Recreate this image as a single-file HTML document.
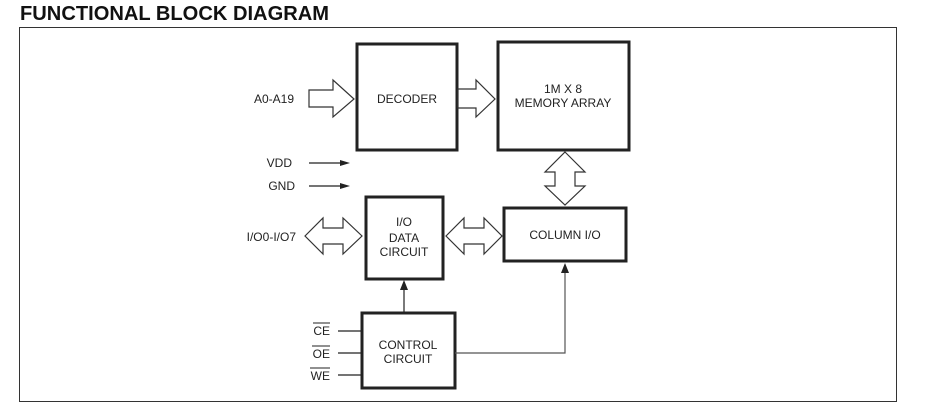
<!DOCTYPE html>
<html><head><style>
body{margin:0;background:#fff;width:925px;height:404px;overflow:hidden}
svg text{font-family:"Liberation Sans",Arial,sans-serif;fill:#222}
</style></head><body>
<svg width="925" height="404" xmlns="http://www.w3.org/2000/svg">
<text x="20" y="20" font-size="20" font-weight="bold" textLength="309" lengthAdjust="spacingAndGlyphs" style="fill:#111">FUNCTIONAL BLOCK DIAGRAM</text>
<rect x="19.5" y="27.5" width="877" height="374" fill="none" stroke="#333" stroke-width="1"/>
<g fill="none" stroke="#222" stroke-width="3">
<rect x="357" y="44" width="100" height="106"/>
<rect x="498" y="42" width="131" height="108"/>
<rect x="504" y="208" width="122" height="53"/>
<rect x="366" y="197" width="77" height="82"/>
<rect x="362" y="313" width="93" height="75"/>
</g>
<g fill="#fff" stroke="#333" stroke-width="1.2">
<polygon points="309,90 333,90 333,80 354,99 333,117 333,107 309,107"/>
<polygon points="458,89 476,89 476,80 495,99 476,117 476,108 458,108"/>
<polygon points="565,152 585,172 575,172 575,186 585,186 565,205 545,186 555,186 555,172 545,172"/>
<polygon points="305,236 323,218 323,228 343,228 343,218 362,236 343,254 343,244 323,244 323,254"/>
<polygon points="446,236 464,218 464,228 484,228 484,218 502,236 484,254 484,244 464,244 464,254"/>
</g>
<g stroke="#222" stroke-width="1.2" fill="none">
<line x1="309" y1="163" x2="342" y2="163"/>
<line x1="309" y1="186" x2="342" y2="186"/>
<line x1="338" y1="331" x2="362" y2="331"/>
<line x1="338" y1="353" x2="362" y2="353"/>
<line x1="338" y1="375" x2="362" y2="375"/>
<line x1="404" y1="312" x2="404" y2="288"/>
<polyline points="455,353 565,353 565,272" stroke="#555"/>
</g>
<g fill="#222">
<polygon points="350,163 340,160 340,166"/>
<polygon points="350,186 340,183 340,189"/>
<polygon points="404,280 400,290 408,290"/>
<polygon points="565,263 561,273 569,273"/>
</g>
<g font-size="12" text-anchor="middle">
<text x="407" y="103">DECODER</text>
<text x="563" y="93">1M X 8</text>
<text x="563" y="107">MEMORY ARRAY</text>
<text x="565" y="239">COLUMN I/O</text>
<text x="404" y="226">I/O</text>
<text x="404" y="242">DATA</text>
<text x="404" y="256">CIRCUIT</text>
<text x="408" y="349">CONTROL</text>
<text x="408" y="363">CIRCUIT</text>
</g>
<g font-size="12" text-anchor="end">
<text x="294" y="103">A0-A19</text>
<text x="292" y="167">VDD</text>
<text x="295" y="190">GND</text>
<text x="296" y="241">I/O0-I/O7</text>
<text x="330" y="335">CE</text>
<text x="330" y="358">OE</text>
<text x="330" y="380">WE</text>
</g>
<g stroke="#222" stroke-width="1">
<line x1="313" y1="323" x2="330" y2="323"/>
<line x1="312" y1="346" x2="330" y2="346"/>
<line x1="310" y1="368" x2="330" y2="368"/>
</g>
</svg>
</body></html>
